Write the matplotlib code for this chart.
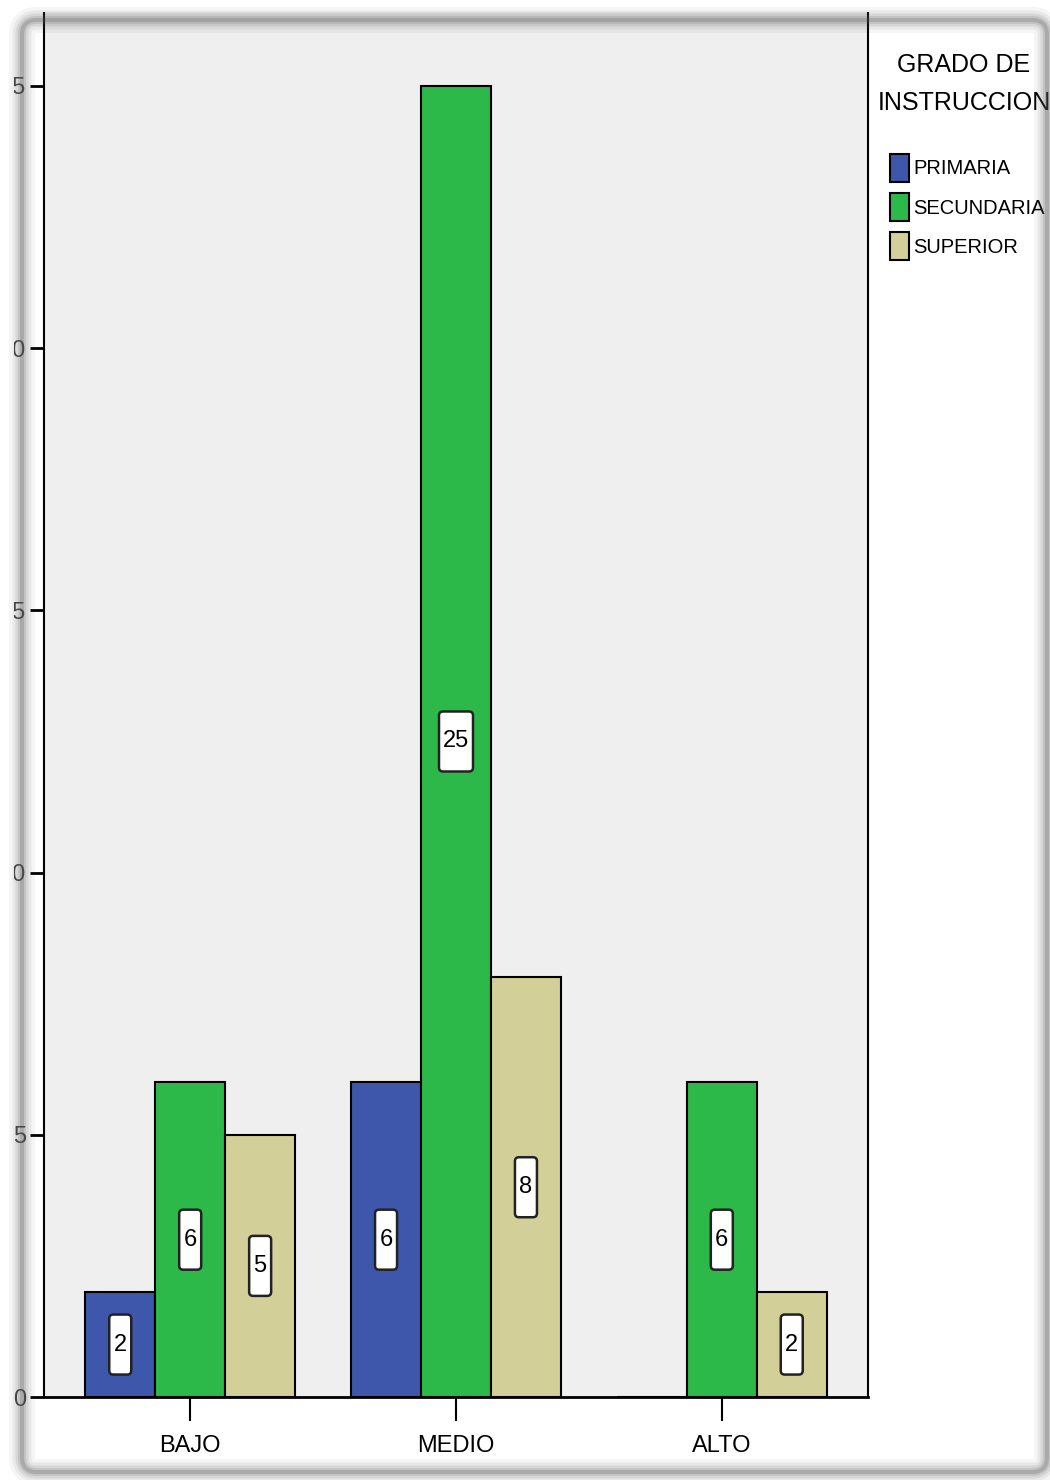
import matplotlib.pyplot as plt
import numpy as np
from matplotlib.patches import FancyBboxPatch, Rectangle
from matplotlib.transforms import ScaledTranslation

categories = ['BAJO', 'MEDIO', 'ALTO']
series = ['PRIMARIA', 'SECUNDARIA', 'SUPERIOR']
primaria = [2, 6, 0]
secundaria = [6, 25, 6]
superior = [5, 8, 2]
colors = ['#3F57AA', '#2DB84A', '#D3CF98']
y_ticks = [0, 5, 10, 15, 20, 25]

plt.rcParams['font.family'] = ['Liberation Sans', 'DejaVu Sans']

W, H = 1050, 1480
fig = plt.figure(figsize=(W / 100, H / 100), dpi=100)
ax = fig.add_axes([44 / W, (H - 1397) / H, (868 - 44) / W, 1397 / H])
ax.set_facecolor('#EFEFEF')

x = np.arange(len(categories))
bw = 70 / 266
handles = []
for i, (name, vals, col) in enumerate(zip(series, [primaria, secundaria, superior], colors)):
    pos = x + (i - 1) * bw
    bars = ax.bar(pos, vals, bw, color=col, edgecolor='black', linewidth=1.5, zorder=2)
    handles.append(bars)
    for cx, v in zip(pos, vals):
        if v == 0:
            continue
        bw_px = 10 + 12 * len(str(v))
        tr = fig.dpi_scale_trans + ScaledTranslation(cx, v / 2, ax.transData)
        box = FancyBboxPatch((-bw_px / 200, -0.3), bw_px / 100, 0.6,
                             boxstyle='round,pad=0,rounding_size=0.04',
                             fc='white', ec='#222222', lw=1.8, transform=tr, zorder=4)
        ax.add_artist(box)
        ax.text(cx, v / 2, str(v), ha='center', va='center', fontsize=17, zorder=5)

ax.set_xlim(-0.55, 2.55)
ax.set_ylim(0, 1397 / (1311 / 25))
ax.set_xticks(x)
ax.set_xticklabels(categories)
ax.set_yticks(y_ticks)
ax.tick_params(axis='y', length=10, width=2, pad=3, labelsize=17, labelcolor='#444444')
ax.tick_params(axis='x', length=17, width=1.5, pad=10, labelsize=17)
ax.spines['top'].set_visible(False)
for s in ['left', 'right', 'bottom']:
    ax.spines[s].set_linewidth(1.5)
ax.spines['bottom'].set_linewidth(2)

fig.text(964 / W, 1 - 84 / H, 'GRADO DE\nINSTRUCCION', ha='center', va='center',
         fontsize=18, linespacing=1.75)
fig.legend(handles, series, loc='upper left', bbox_to_anchor=(890 / W, 1 - 154 / H),
           frameon=False, fontsize=14.5, handlelength=0.95, handleheight=1.74,
           handletextpad=0.2, labelspacing=0.57, borderpad=0, borderaxespad=0)

# white margin and blurred shadow frame around the picture
fig.add_artist(Rectangle((0, 0), 0.14, H / 100, transform=fig.dpi_scale_trans,
                         fc='white', ec='none', zorder=5))
fig.add_artist(Rectangle((0, 14.68), W / 100, 0.2, transform=fig.dpi_scale_trans,
                         fc='white', ec='none', zorder=5))
for lw, a in [(26, 0.06), (19, 0.08), (13, 0.11), (8, 0.15), (4, 0.22)]:
    fig.add_artist(FancyBboxPatch((0.22, 0.08), 10.25, 14.52,
                                  boxstyle='round,pad=0,rounding_size=0.15',
                                  transform=fig.dpi_scale_trans, fc='none',
                                  ec='#555555', lw=lw * 0.72, alpha=a, zorder=6))

fig.savefig('out.png', dpi=100)
